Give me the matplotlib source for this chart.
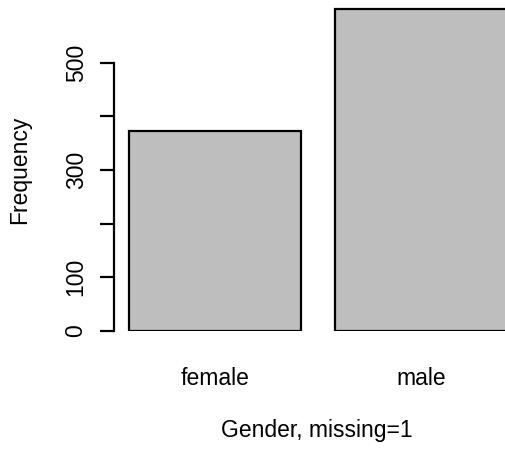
import matplotlib
matplotlib.use("Agg")
import matplotlib.pyplot as plt

categories = ["female", "male"]
counts = [373, 600]
yticks = [0, 100, 200, 300, 400, 500]
ytick_labels = ["0", "100", "", "300", "", "500"]

W, H, DPI = 505, 449, 100
FS = 16.5
plt.rcParams["font.family"] = ["Liberation Sans", "DejaVu Sans"]

fig = plt.figure(figsize=(W / DPI, H / DPI), dpi=DPI)
# axes bottom sits at the bar baseline (pixel row 331)
base_px = 331
ax = fig.add_axes([0, (H - base_px) / H, 1, base_px / H])

# R barplot geometry: width 1, space 0.2
px_per_unit = 172.0
x0 = 0.2 - 129 / px_per_unit
ax.set_xlim(x0, x0 + W / px_per_unit)
ax.set_ylim(0, base_px / 0.537)

pos = [0.7, 1.9]
ax.bar(pos, counts, width=1.0, color="#bebebe", edgecolor="black", linewidth=1.6)

for s in ["top", "right", "bottom"]:
    ax.spines[s].set_visible(False)
ax.spines["left"].set_position(("data", 0.2 - 15 / px_per_unit))
ax.spines["left"].set_bounds(0, 500)
ax.spines["left"].set_linewidth(1.6)

ax.set_yticks(yticks)
ax.set_yticklabels(ytick_labels, rotation=90, va="center", fontsize=FS)
ax.tick_params(axis="y", length=10, width=1.6, pad=9)

ax.set_xticks(pos)
ax.set_xticklabels(categories, fontsize=FS)
ax.tick_params(axis="x", length=0, pad=26)

fig.text(20 / W, 1 - 170 / H, "Frequency", rotation=90, ha="center", va="center", fontsize=FS)
fig.text(317 / W, 1 - 430 / H, "Gender, missing=1", ha="center", va="center", fontsize=FS)

fig.savefig("out.png", dpi=DPI)
